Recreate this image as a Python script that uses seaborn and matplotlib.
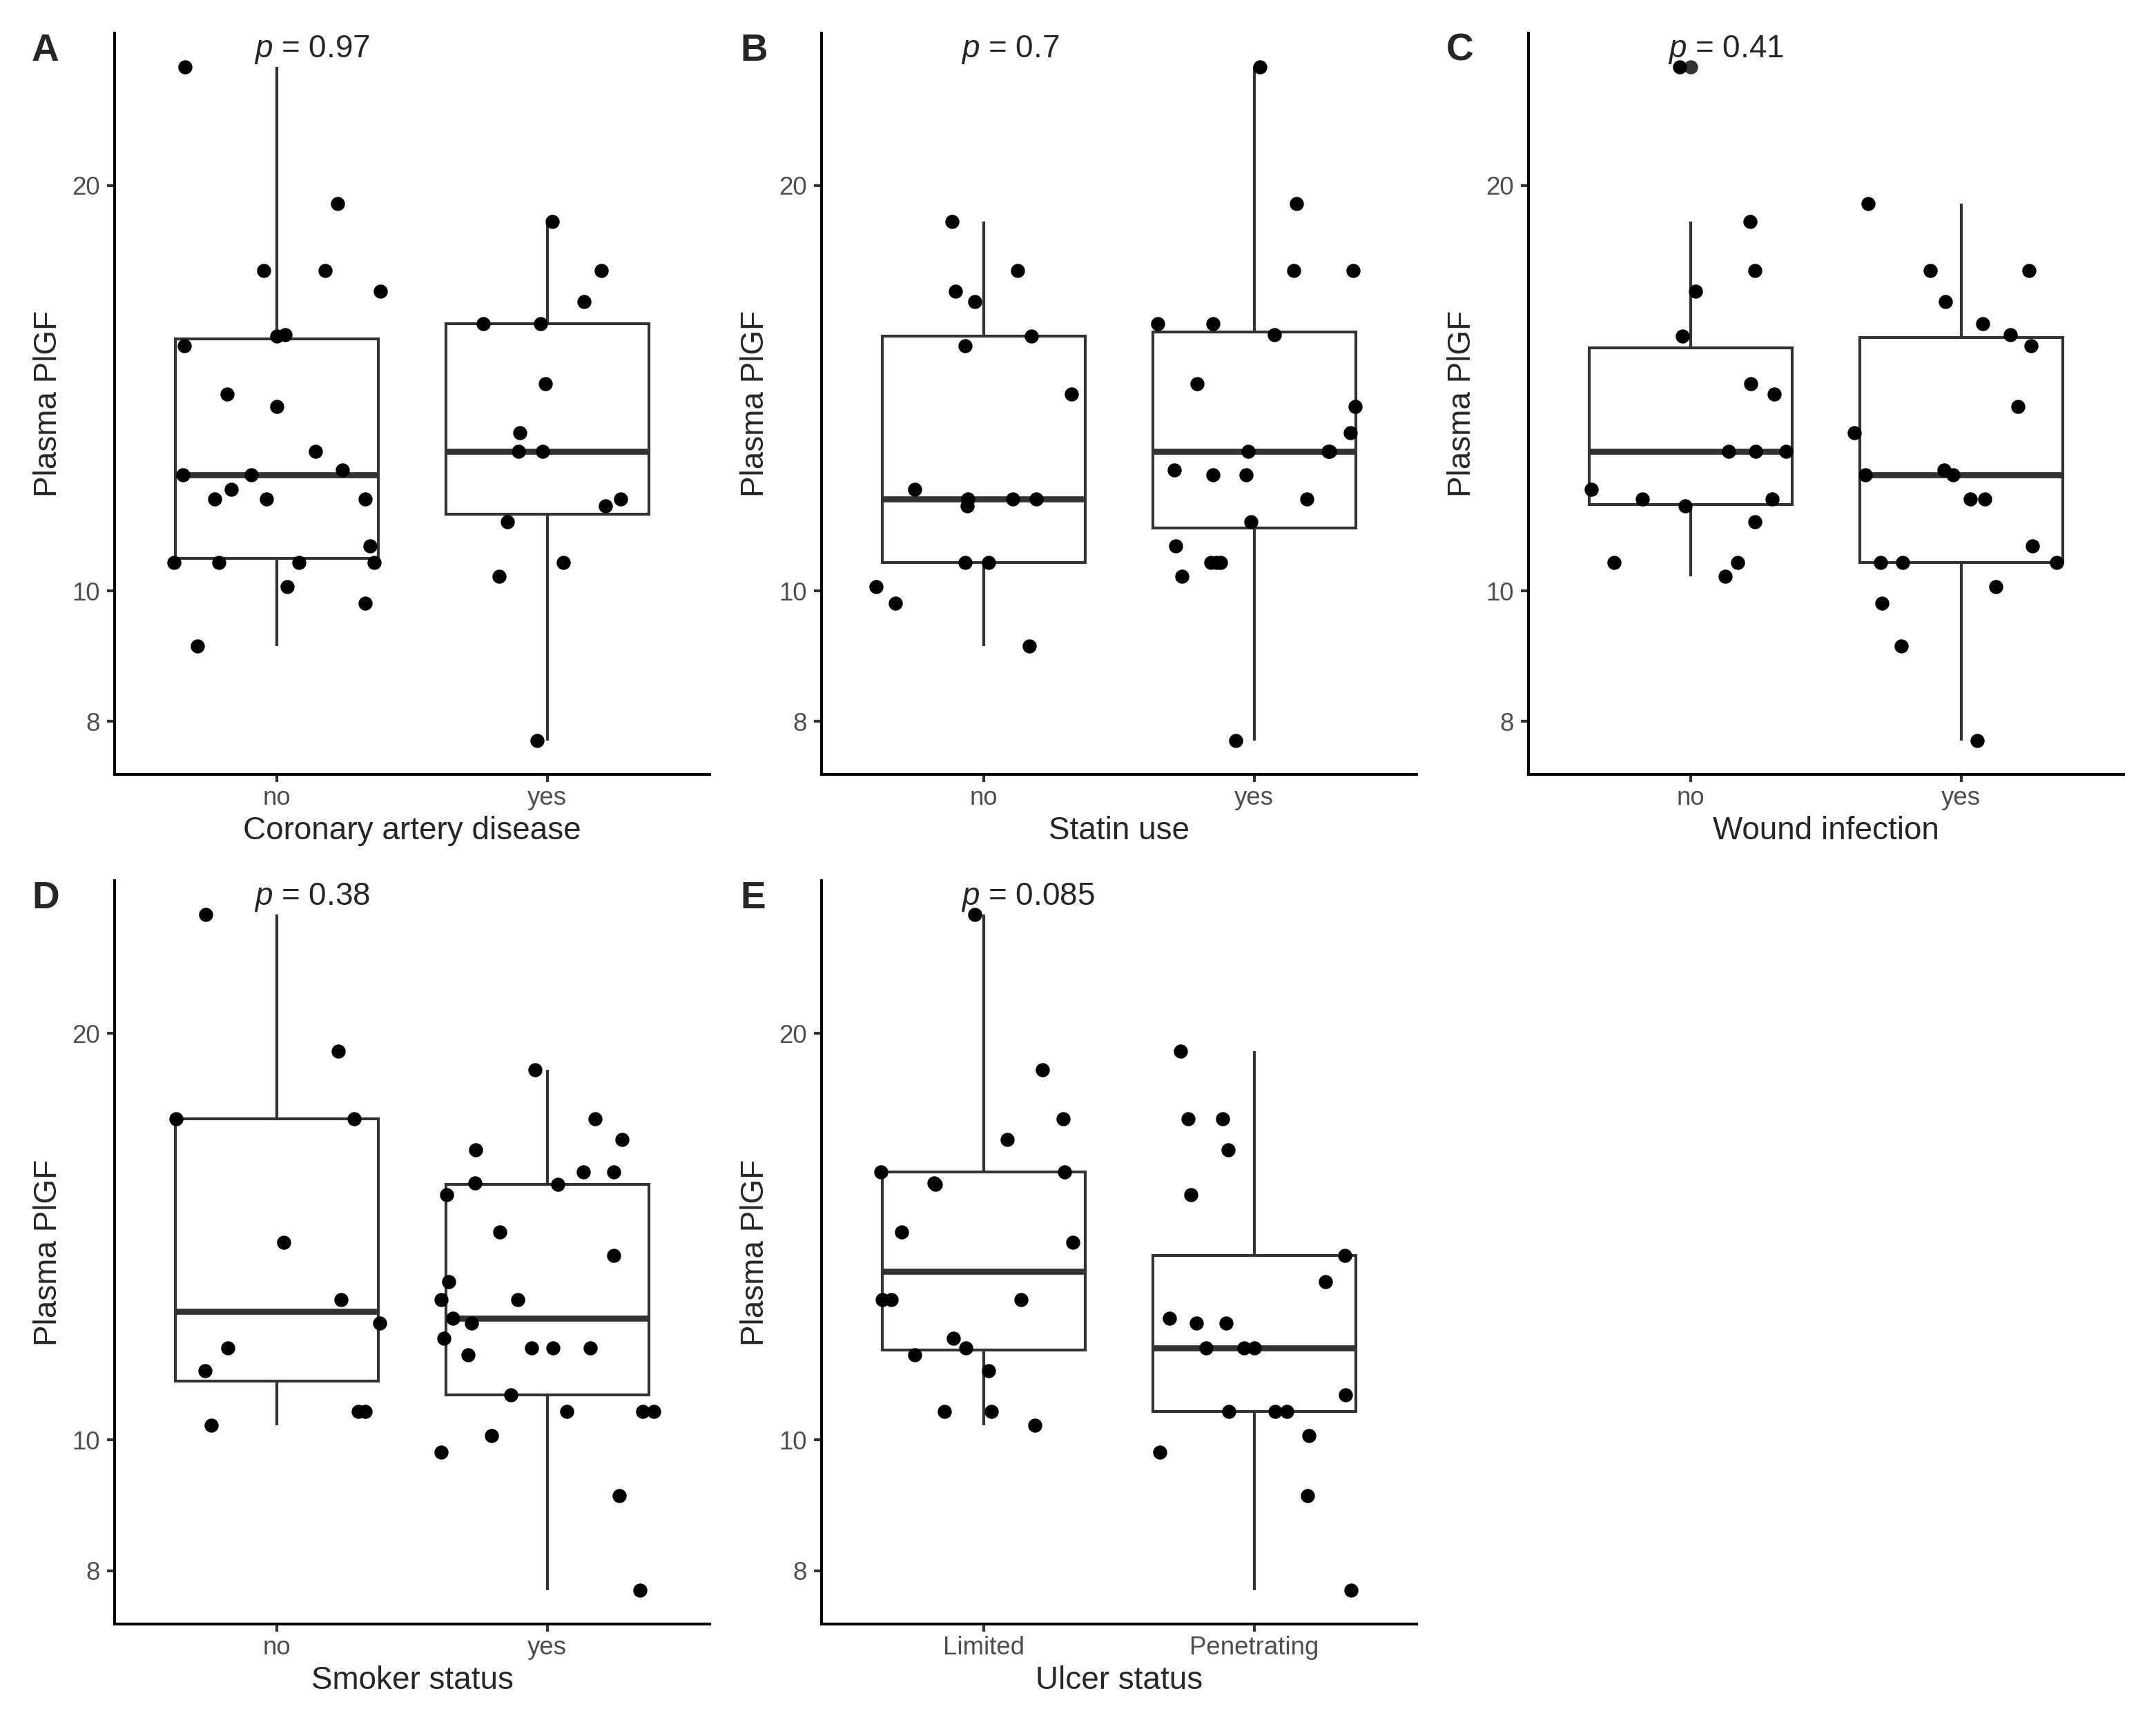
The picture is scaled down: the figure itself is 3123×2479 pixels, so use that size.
import numpy as np
import pandas as pd
import matplotlib
matplotlib.use("Agg")
import matplotlib.pyplot as plt
from matplotlib.ticker import FixedLocator, FixedFormatter, NullLocator
import seaborn as sns

sns.set_style("ticks")
plt.rcParams['font.family'] = ['Liberation Sans', 'DejaVu Sans']
plt.rcParams['mathtext.fontset'] = 'custom'
plt.rcParams['mathtext.it'] = 'Liberation Sans:italic'
plt.rcParams['mathtext.rm'] = 'Liberation Sans'

# Plasma PlGF values, per panel and group
cad_no = [24.5, 19.4, 17.3, 17.3, 16.7, 15.5, 15.46, 15.2, 14.0, 13.7, 12.7, 12.3, 12.2, 12.2,
          11.9, 11.7, 11.7, 11.7, 10.8, 10.5, 10.5, 10.5, 10.5, 10.07, 9.79, 9.1]
cad_yes = [18.8, 17.3, 16.4, 15.8, 15.8, 14.25, 13.1, 12.7, 12.7, 11.7, 11.56, 11.25, 10.5, 10.25, 7.74]

statin_no = [18.8, 17.3, 16.7, 16.4, 15.46, 15.2, 14.0, 11.9, 11.7, 11.56, 11.7, 11.7, 10.5, 10.5,
             10.07, 9.79, 9.1]
statin_yes = [24.5, 19.4, 17.3, 17.3, 15.8, 15.8, 15.5, 14.25, 13.7, 13.1, 12.7, 12.7, 12.7, 12.3,
              12.2, 12.2, 11.7, 11.25, 10.8, 10.5, 10.5, 10.5, 10.25, 7.74]

wound_no = [24.5, 18.8, 17.3, 16.7, 15.46, 14.25, 14.0, 12.7, 12.7, 12.7, 11.9, 11.7, 11.7, 11.56,
            11.25, 10.5, 10.5, 10.25]
wound_yes = [19.4, 17.3, 17.3, 16.4, 15.8, 15.5, 15.2, 13.7, 13.1, 12.3, 12.2, 12.2, 11.7, 11.7,
             10.8, 10.5, 10.5, 10.5, 10.07, 9.79, 9.1, 7.74]

smoker_no = [24.5, 19.4, 17.3, 17.3, 14.0, 12.7, 12.2, 11.7, 11.25, 10.5, 10.5, 10.25]
smoker_yes = [18.8, 17.3, 16.7, 16.4, 15.8, 15.8, 15.46, 15.5, 15.2, 14.25, 13.7, 13.1, 12.7, 12.7,
              12.3, 12.2, 11.9, 11.7, 11.7, 11.7, 11.56, 10.8, 10.5, 10.5, 10.5, 10.07, 9.79, 9.1, 7.74]

ulcer_limited = [24.5, 18.8, 17.3, 16.7, 15.8, 15.8, 15.5, 15.46, 14.25, 14.0, 12.7, 12.7, 12.7,
                 11.9, 11.7, 11.56, 11.25, 10.5, 10.5, 10.25]
ulcer_penetrating = [19.4, 17.3, 17.3, 16.4, 15.2, 13.7, 13.1, 12.3, 12.2, 12.2, 11.7, 11.7, 11.7,
                     10.8, 10.5, 10.5, 10.5, 10.07, 9.79, 9.1, 7.74]

yes_no = ["no", "yes"]
ulcer_levels = ["Limited", "Penetrating"]
y_ticks = [8, 10, 20]

panels = [
    ("A", "Coronary artery disease", yes_no, [cad_no, cad_yes], "0.97"),
    ("B", "Statin use", yes_no, [statin_no, statin_yes], "0.7"),
    ("C", "Wound infection", yes_no, [wound_no, wound_yes], "0.41"),
    ("D", "Smoker status", yes_no, [smoker_no, smoker_yes], "0.38"),
    ("E", "Ulcer status", ulcer_levels, [ulcer_limited, ulcer_penetrating], "0.085"),
]

W, H = 3123, 2479
# axes boxes in pixels: left, top, width, height
rects = {
    "A": (166, 48, 862, 1074),
    "B": (1190, 48, 862, 1074),
    "C": (2214, 48, 862, 1074),
    "D": (166, 1276, 862, 1077),
    "E": (1190, 1276, 862, 1077),
}
tag_pos = {"A": (46, 88), "B": (1072, 88), "C": (2095, 88), "D": (46, 1316), "E": (1072, 1316)}

all_vals = np.concatenate([np.concatenate(g) for _, _, _, g, _ in panels])
lo, hi = np.log10(all_vals.min()), np.log10(all_vals.max())
pad = 0.05 * (hi - lo)
ylim = (10 ** (lo - pad), 10 ** (hi + pad))

np.random.seed(7)
fig = plt.figure(figsize=(W / 300, H / 300), dpi=300)

for tag, xlab, levels, groups, pval in panels:
    l, t, w, h = rects[tag]
    ax = fig.add_axes([l / W, 1 - (t + h) / H, w / W, h / H])
    df = pd.DataFrame({
        "group": np.repeat(levels, [len(g) for g in groups]),
        "value": np.concatenate(groups),
    })
    sns.boxplot(data=df, x="group", y="value", order=levels, log_scale=True,
                color="white", linecolor="#333333", linewidth=1.0, width=0.75,
                saturation=1, showcaps=False,
                medianprops=dict(linewidth=2.1),
                flierprops=dict(marker="o", markersize=4.9, markerfacecolor="#333333",
                                markeredgecolor="#333333", markeredgewidth=0),
                ax=ax)
    sns.stripplot(data=df, x="group", y="value", order=levels, log_scale=True,
                  jitter=0.4, color="black", size=4.9, linewidth=0, zorder=3, ax=ax)

    ax.set_xlim(-0.6, 1.6)
    ax.set_ylim(*ylim)
    ax.yaxis.set_major_locator(FixedLocator(y_ticks))
    ax.yaxis.set_major_formatter(FixedFormatter([str(v) for v in y_ticks]))
    ax.yaxis.set_minor_locator(NullLocator())

    sns.despine(ax=ax)
    for side in ["left", "bottom"]:
        ax.spines[side].set_linewidth(1.0)
        ax.spines[side].set_color("black")
    ax.tick_params(axis="both", length=2.6, width=1.0, color="#333333",
                   labelsize=8.8, labelcolor="#4D4D4D")
    ax.tick_params(axis="x", pad=1.5)
    ax.tick_params(axis="y", pad=2.5)
    ax.set_xlabel(xlab, fontsize=11, labelpad=2.0)
    ax.set_ylabel("Plasma PlGF", fontsize=11, labelpad=2.8)

    ax.text(-0.085, 24.9, r"$p$ = " + pval, ha="left", va="baseline", fontsize=11)

    tx, ty = tag_pos[tag]
    fig.text(tx / W, 1 - ty / H, tag, fontsize=13.2, fontweight="bold",
             ha="left", va="baseline")

fig.savefig("out.png", dpi=300)
